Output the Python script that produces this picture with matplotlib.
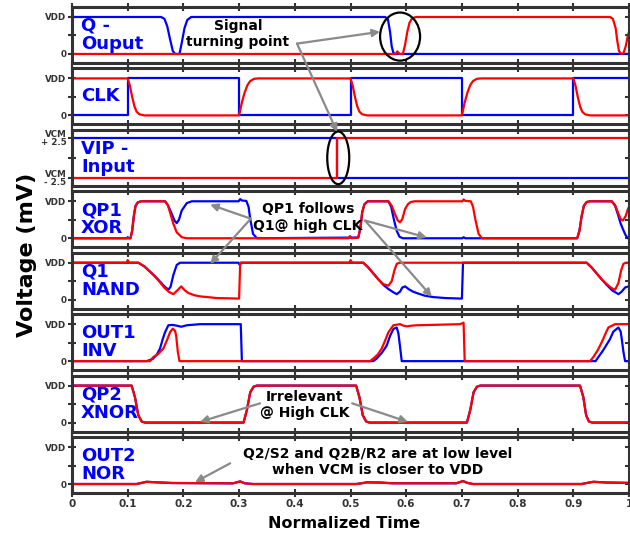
import matplotlib
matplotlib.use("Agg")
import matplotlib.pyplot as plt
from matplotlib.patches import Ellipse, ConnectionPatch

# ---- values: (normalized time, level) ----
TIME_TICKS = [0, 0.1, 0.2, 0.3, 0.4, 0.5, 0.6, 0.7, 0.8, 0.9, 1.0]
TIME_TICK_LABELS = ["0", "0.1", "0.2", "0.3", "0.4", "0.5", "0.6", "0.7", "0.8", "0.9", "1"]
PANEL_LABELS = ["Q -\nOuput", "CLK", "VIP -\nInput", "QP1\nXOR", "Q1\nNAND",
                "OUT1\nINV", "QP2\nXNOR", "OUT2\nNOR"]
LEVEL_LABELS = ["0", "", "VDD"]
VIP_LEVEL_LABELS = ["VCM\n- 2.5", "", "VCM\n+ 2.5"]

Q_BLUE = [(0, 1), (0.160, 1), (0.166, 0.95), (0.171, 0.75), (0.176, 0.4), (0.181, 0.08),
          (0.185, 0), (0.193, 0), (0.197, 0.3), (0.202, 0.7), (0.207, 0.92), (0.214, 1),
          (0.562, 1), (0.567, 0.95), (0.571, 0.6), (0.574, 0.2), (0.577, 0.03), (0.58, 0), (1, 0)]
Q_RED = [(0, 0), (0.581, 0), (0.584, 0.07), (0.588, 0), (0.594, 0), (0.598, 0.25),
         (0.602, 0.6), (0.606, 0.85), (0.611, 0.97), (0.618, 1), (0.966, 1), (0.971, 0.95),
         (0.976, 0.7), (0.979, 0.35), (0.982, 0.08), (0.986, 0), (0.99, 0.02),
         (0.994, 0.2), (0.998, 0.5), (1, 0.6)]

CLK_BLUE = [(0, 0), (0.1, 0), (0.1, 1), (0.3, 1), (0.3, 0), (0.5, 0), (0.5, 1),
            (0.7, 1), (0.7, 0), (0.9, 0), (0.9, 1), (1, 1)]
CLK_RED = [(0, 1), (0.1, 1), (0.104, 0.8), (0.108, 0.5), (0.112, 0.25), (0.116, 0.1),
           (0.121, 0.03), (0.13, 0), (0.3, 0), (0.305, 0.35), (0.31, 0.62), (0.315, 0.82),
           (0.32, 0.93), (0.327, 0.99), (0.335, 1), (0.5, 1), (0.504, 0.8), (0.508, 0.5),
           (0.512, 0.25), (0.516, 0.1), (0.521, 0.03), (0.53, 0), (0.7, 0), (0.705, 0.35),
           (0.71, 0.62), (0.715, 0.82), (0.72, 0.93), (0.727, 0.99), (0.735, 1), (0.9, 1),
           (0.904, 0.8), (0.908, 0.5), (0.912, 0.25), (0.916, 0.1), (0.921, 0.03),
           (0.93, 0), (1, 0)]

VIP_BLUE = [(0, 1), (0.476, 1), (0.476, 0), (1, 0)]
VIP_RED = [(0, 0), (0.475, 0), (0.475, 1), (1, 1)]

QP1_BLUE = [(0, 0), (0.099, 0), (0.1, 0.03), (0.102, 0), (0.105, 0), (0.108, 0.2),
            (0.111, 0.6), (0.114, 0.87), (0.118, 0.97), (0.124, 1), (0.167, 1),
            (0.172, 0.9), (0.178, 0.7), (0.184, 0.48), (0.188, 0.41), (0.192, 0.5),
            (0.197, 0.75), (0.206, 0.95), (0.215, 1), (0.299, 1), (0.302, 1.06),
            (0.305, 1.02), (0.313, 1.01), (0.317, 0.85), (0.32, 0.52), (0.325, 0.12),
            (0.332, 0), (0.514, 0.02), (0.518, 0.3), (0.521, 0.7), (0.525, 0.92),
            (0.531, 1), (0.568, 1), (0.573, 0.85), (0.578, 0.5), (0.583, 0.2),
            (0.588, 0.04), (0.594, 0), (0.701, 0), (0.703, 0.03), (0.706, 0), (0.907, 0),
            (0.911, 0.2), (0.915, 0.6), (0.919, 0.88), (0.924, 0.98), (0.93, 1),
            (0.969, 1), (0.975, 0.88), (0.98, 0.65), (0.985, 0.4), (0.989, 0.25),
            (0.994, 0.08), (0.998, 0), (1, 0)]
QP1_RED = [(0, 0), (0.105, 0), (0.108, 0.2), (0.111, 0.6), (0.114, 0.87), (0.118, 0.97),
           (0.124, 1), (0.167, 1), (0.172, 0.9), (0.176, 0.7), (0.182, 0.39),
           (0.188, 0.16), (0.197, 0.03), (0.206, 0), (0.497, 0), (0.499, 0.06),
           (0.502, 0), (0.514, 0.02), (0.518, 0.3), (0.521, 0.7), (0.525, 0.92),
           (0.531, 1), (0.568, 1), (0.574, 0.88), (0.58, 0.65), (0.585, 0.48),
           (0.589, 0.43), (0.593, 0.52), (0.598, 0.79), (0.603, 0.92), (0.608, 0.98),
           (0.615, 1), (0.701, 1), (0.703, 1.05), (0.706, 1.01), (0.716, 1.0),
           (0.72, 0.85), (0.724, 0.52), (0.73, 0.12), (0.736, 0), (0.907, 0),
           (0.911, 0.2), (0.915, 0.6), (0.919, 0.88), (0.924, 0.98), (0.93, 1),
           (0.969, 1), (0.975, 0.9), (0.98, 0.7), (0.985, 0.52), (0.989, 0.48),
           (0.994, 0.6), (0.998, 0.79), (1, 0.85)]

Q1_BLUE = [(0, 1), (0.119, 1), (0.13, 0.9), (0.14, 0.76), (0.15, 0.62), (0.158, 0.49),
           (0.166, 0.36), (0.173, 0.27), (0.177, 0.35), (0.182, 0.67), (0.188, 0.94),
           (0.194, 1), (0.299, 1), (0.301, 0.94), (0.304, 1), (0.523, 1), (0.532, 0.87),
           (0.541, 0.71), (0.55, 0.55), (0.559, 0.4), (0.568, 0.29), (0.577, 0.2),
           (0.583, 0.15), (0.589, 0.22), (0.593, 0.33), (0.598, 0.36), (0.605, 0.28),
           (0.612, 0.22), (0.619, 0.18), (0.633, 0.11), (0.649, 0.07), (0.67, 0.045),
           (0.7, 0.03), (0.702, 1), (0.924, 1), (0.933, 0.87), (0.942, 0.71),
           (0.951, 0.55), (0.96, 0.4), (0.97, 0.25), (0.981, 0.15), (0.987, 0.22),
           (0.993, 0.33), (0.999, 0.36), (1, 0.36)]
Q1_RED = [(0, 1), (0.098, 1), (0.1, 1.07), (0.103, 1), (0.119, 1), (0.13, 0.9),
          (0.14, 0.76), (0.15, 0.61), (0.158, 0.47), (0.166, 0.32), (0.174, 0.21),
          (0.182, 0.15), (0.189, 0.25), (0.196, 0.36), (0.202, 0.26), (0.209, 0.18),
          (0.22, 0.12), (0.23, 0.09), (0.26, 0.045), (0.3, 0.03), (0.302, 1), (0.498, 1),
          (0.5, 1.07), (0.503, 1), (0.523, 1), (0.532, 0.87), (0.541, 0.71), (0.55, 0.55),
          (0.559, 0.42), (0.568, 0.38), (0.574, 0.5), (0.579, 0.8), (0.583, 0.97),
          (0.588, 1), (0.924, 1), (0.933, 0.87), (0.942, 0.71), (0.951, 0.55),
          (0.96, 0.42), (0.968, 0.32), (0.975, 0.27), (0.981, 0.45), (0.986, 0.8),
          (0.99, 0.97), (0.994, 1), (1, 1)]

OUT1_BLUE = [(0, 0), (0.134, 0), (0.145, 0.06), (0.152, 0.17), (0.158, 0.34), (0.163, 0.6),
             (0.167, 0.78), (0.173, 0.97), (0.18, 0.98), (0.188, 0.96), (0.196, 0.93),
             (0.206, 0.97), (0.23, 1), (0.303, 1), (0.305, 0), (0.541, 0), (0.547, 0.07),
             (0.556, 0.22), (0.565, 0.42), (0.571, 0.68), (0.577, 0.87), (0.583, 0.91),
             (0.586, 0.75), (0.588, 0.51), (0.592, 0), (0.94, 0), (0.945, 0.11),
             (0.953, 0.28), (0.96, 0.45), (0.966, 0.6), (0.972, 0.8), (0.981, 0.91),
             (0.985, 0.8), (0.987, 0.6), (0.99, 0.25), (0.993, 0), (1, 0)]
OUT1_RED = [(0, 0), (0.14, 0), (0.146, 0.11), (0.155, 0.2), (0.164, 0.34), (0.17, 0.55),
            (0.176, 0.78), (0.181, 0.88), (0.185, 0.82), (0.187, 0.69), (0.19, 0.25),
            (0.193, 0), (0.535, 0), (0.541, 0.07), (0.549, 0.18), (0.556, 0.34),
            (0.562, 0.55), (0.568, 0.78), (0.577, 0.97), (0.589, 1), (0.595, 0.96),
            (0.601, 0.94), (0.61, 0.96), (0.619, 0.97), (0.697, 1.0), (0.703, 1.04),
            (0.705, 0), (0.93, 0), (0.936, 0.11), (0.944, 0.3), (0.951, 0.51),
            (0.958, 0.75), (0.963, 0.91), (0.975, 1), (1, 1)]

QP2_LEVEL = [(0, 1), (0.107, 1), (0.113, 0.69), (0.119, 0.2), (0.125, 0.03), (0.131, 0),
             (0.308, 0), (0.314, 0.34), (0.32, 0.82), (0.326, 0.97), (0.332, 1), (0.51, 1),
             (0.516, 0.69), (0.522, 0.2), (0.528, 0.03), (0.534, 0), (0.709, 0),
             (0.715, 0.34), (0.721, 0.82), (0.727, 0.97), (0.733, 1), (0.912, 1),
             (0.918, 0.69), (0.923, 0.2), (0.928, 0.03), (0.934, 0), (1, 0)]
OUT2_LEVEL = [(0, 0), (0.116, 0), (0.125, 0.03), (0.134, 0.06), (0.152, 0.045),
              (0.18, 0.027), (0.289, 0.018), (0.302, 0.07), (0.31, 0.02), (0.325, 0),
              (0.51, 0), (0.52, 0.02), (0.529, 0.045), (0.553, 0.04), (0.575, 0.02),
              (0.69, 0.02), (0.702, 0.08), (0.71, 0.03), (0.72, 0), (0.915, 0),
              (0.925, 0.03), (0.936, 0.06), (0.96, 0.04), (1, 0.03)]

TRACES = [(Q_BLUE, Q_RED), (CLK_BLUE, CLK_RED), (VIP_BLUE, VIP_RED),
          (QP1_BLUE, QP1_RED), (Q1_BLUE, Q1_RED), (OUT1_BLUE, OUT1_RED),
          (QP2_LEVEL, QP2_LEVEL), (OUT2_LEVEL, OUT2_LEVEL)]

BLUE = "#0000ff"
RED = "#ff0000"
FRAME = "#333333"
ARROW = "#8a8a8a"


def draw_trace(ax, pts, color):
    t, v = zip(*pts)
    ax.plot(t, v, color=color, lw=1.6, solid_joinstyle="round")


def arrow(fig, ax_from, start, ax_to, end):
    con = ConnectionPatch(xyA=start, coordsA=ax_from.transData,
                          xyB=end, coordsB=ax_to.transData,
                          arrowstyle="-|>", color=ARROW, lw=1.6,
                          mutation_scale=11, shrinkA=0, shrinkB=0, zorder=10)
    fig.add_artist(con)


fig = plt.figure(figsize=(6.3, 5.34), dpi=100)
gs = fig.add_gridspec(8, 1, left=72 / 630, right=629 / 630, top=1 - 7 / 534,
                      bottom=1 - 493 / 534, hspace=0.098)
axes = [fig.add_subplot(gs[i, 0]) for i in range(8)]

for i, ax in enumerate(axes):
    blue, red = TRACES[i]
    draw_trace(ax, blue, BLUE)
    draw_trace(ax, red, RED)
    ax.set_facecolor("none")
    ax.set_xlim(0, 1)
    if i == 2:
        ax.set_ylim(-0.19, 1.19)
    else:
        ax.set_ylim(-0.243, 1.27)
    ax.set_xticks(TIME_TICKS)
    ax.set_yticks([0, 0.5, 1])
    ax.set_yticklabels(VIP_LEVEL_LABELS if i == 2 else LEVEL_LABELS,
                       fontsize=6.3, fontweight="bold", color=FRAME, linespacing=0.9)
    if i == 7:
        ax.set_xticklabels(TIME_TICK_LABELS, fontsize=7.5, fontweight="bold", color=FRAME)
    else:
        ax.set_xticklabels([])
    ax.tick_params(axis="x", top=True, bottom=True, direction="inout", length=6,
                   width=1.5, color=FRAME, pad=1)
    ax.tick_params(axis="y", left=True, right=True, direction="inout", length=6,
                   width=1.5, color=FRAME, pad=1)
    for sp in ax.spines.values():
        sp.set_linewidth(2.2)
        sp.set_color(FRAME)
    ax.text(0.016, 0.5, PANEL_LABELS[i], transform=ax.transAxes, ha="left", va="center",
            fontsize=13, fontweight="bold", color=BLUE, linespacing=1.02)

# circled turning points
axes[0].add_patch(Ellipse((0.589, 0.47), 0.0718, 1.30, fill=False, ec="black",
                          lw=1.6, clip_on=False, zorder=5))
axes[2].add_patch(Ellipse((0.478, 0.5), 0.0395, 1.30, fill=False, ec="black",
                          lw=1.6, clip_on=False, zorder=5))

note_kw = dict(ha="center", va="center", fontsize=10, fontweight="bold", color="black")
axes[0].text(0.298, 0.53, "Signal\nturning point", **note_kw)
arrow(fig, axes[0], (0.404, 0.28), axes[0], (0.553, 0.60))
arrow(fig, axes[0], (0.404, 0.28), axes[2], (0.476, 1.14))

axes[3].text(0.424, 0.56, "QP1 follows\nQ1@ high CLK", **note_kw)
arrow(fig, axes[3], (0.321, 0.53), axes[3], (0.248, 0.91))
arrow(fig, axes[3], (0.321, 0.53), axes[4], (0.248, 0.965))
arrow(fig, axes[3], (0.526, 0.48), axes[3], (0.637, 0.02))
arrow(fig, axes[3], (0.526, 0.48), axes[4], (0.646, 0.08))

axes[6].text(0.418, 0.47, "Irrelevant\n@ High CLK", **note_kw)
arrow(fig, axes[6], (0.3375, 0.52), axes[6], (0.23, 0.02))
arrow(fig, axes[6], (0.503, 0.52), axes[6], (0.603, 0.02))

axes[7].text(0.549, 0.59, "Q2/S2 and Q2B/R2 are at low level\nwhen VCM is closer to VDD",
             **note_kw)
arrow(fig, axes[7], (0.284, 0.56), axes[7], (0.221, 0.05))

fig.text(27 / 630, 1 - 255 / 534, "Voltage (mV)", rotation=90, ha="center", va="center",
         fontsize=16, fontweight="bold")
fig.text(344 / 630, 1 - 523 / 534, "Normalized Time", ha="center", va="center",
         fontsize=11.5, fontweight="bold")

fig.savefig("out.png", dpi=100)
